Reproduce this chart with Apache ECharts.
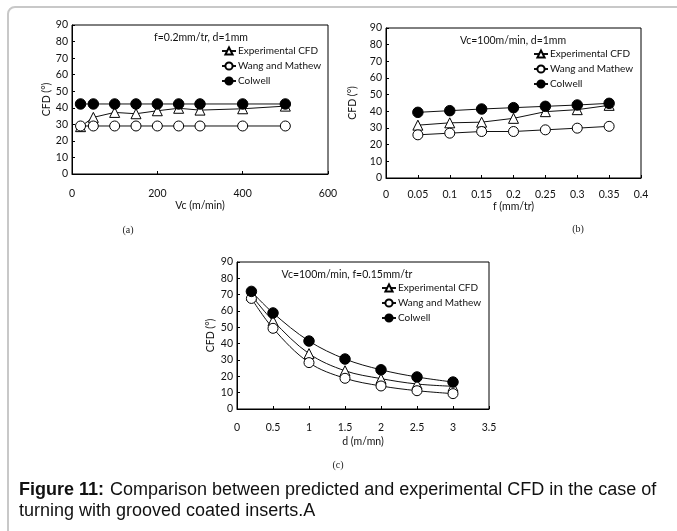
<!DOCTYPE html>
<html>
<head>
<meta charset="utf-8">
<script src="https://cdn.jsdelivr.net/npm/echarts@6/dist/echarts.min.js"></script>
<style>
html,body{margin:0;padding:0;background:#fff;}
#main{width:677px;height:531px;}
</style>
</head>
<body>
<div id="main"></div>
<script>
// ---- data ----
const seriesNames = ['Experimental CFD', 'Wang and Mathew', 'Colwell'];

// (a) f=0.2mm/tr, d=1mm
const vcA = [20, 50, 100, 150, 200, 250, 300, 400, 500];
const expA = [28.6, 34.2, 37.2, 36.4, 38.2, 39.7, 38.6, 39.4, 41.0];
const wangA = [29, 29, 29, 29, 29, 29, 29, 29, 29];
const colA = [42.3, 42.3, 42.3, 42.3, 42.3, 42.3, 42.3, 42.3, 42.3];

// (b) Vc=100m/min, d=1mm
const fB = [0.05, 0.1, 0.15, 0.2, 0.25, 0.3, 0.35];
const expB = [31.7, 33.1, 33.5, 35.8, 39.8, 41.0, 43.6];
const wangB = [25.9, 26.9, 27.9, 27.9, 28.9, 29.9, 31.0];
const colB = [39.4, 40.4, 41.4, 42.2, 43.0, 43.8, 44.8];

// (c) Vc=100m/min, f=0.15mm/tr
const dC = [0.2, 0.5, 1, 1.5, 2, 2.5, 3];
const expC = [69.6, 54.0, 33.9, 23.4, 18.6, 15.3, 13.9];
const wangC = [67.7, 49.4, 28.4, 18.8, 14.1, 11.2, 9.4];
const colC = [72.0, 58.8, 41.6, 30.6, 24.0, 19.6, 16.5];

const yTicks = {min: 0, max: 90, interval: 10};
const xA = {min: 0, max: 600, interval: 200};
const xB = {min: 0, max: 0.4, interval: 0.05};
const xC = {min: 0, max: 3.5, interval: 0.5};

// ---- styling helpers ----
const zip = (xs, ys) => xs.map((x, i) => [x, ys[i]]);
const FONT = 'Lato';
const symStyles = [
  {symbol: 'triangle', symbolSize: 10, itemStyle: {color: '#fff', borderColor: '#000', borderWidth: 1}},
  {symbol: 'circle', symbolSize: 10, itemStyle: {color: '#fff', borderColor: '#000', borderWidth: 1}},
  {symbol: 'circle', symbolSize: 10.5, itemStyle: {color: '#000', borderColor: '#000', borderWidth: 1}}
];
function mkSeries(idx, xs, ysList, smooth) {
  return ysList.map((ys, k) => Object.assign({
    type: 'line', name: seriesNames[k], xAxisIndex: idx, yAxisIndex: idx,
    data: zip(xs, ys), smooth: smooth ? 0.35 : false,
    lineStyle: {color: '#111', width: 1},
    z: 2 + k, animation: false
  }, symStyles[k]));
}
function xAxis(idx, sc, labelMargin, name, nameGap, fmt) {
  return {
    type: 'value', gridIndex: idx, min: sc.min, max: sc.max, interval: sc.interval,
    axisLine: {show: true, onZero: false, lineStyle: {color: '#000', width: 1}},
    axisTick: {show: true, inside: true, length: 3, lineStyle: {color: '#000'}},
    splitLine: {show: false},
    axisLabel: {color: '#111', fontFamily: FONT, fontSize: 10.5, margin: labelMargin,
      formatter: fmt || (v => String(v))},
    name: name, nameLocation: 'middle', nameGap: nameGap,
    nameTextStyle: {color: '#111', fontFamily: FONT, fontSize: 10.5}
  };
}
function yAxis(idx, nameGap) {
  return {
    type: 'value', gridIndex: idx, min: yTicks.min, max: yTicks.max, interval: yTicks.interval,
    axisLine: {show: true, onZero: false, lineStyle: {color: '#000', width: 1}},
    axisTick: {show: true, inside: true, length: 3, lineStyle: {color: '#000'}},
    splitLine: {show: false},
    axisLabel: {color: '#111', fontFamily: FONT, fontSize: 10.5, margin: 4},
    name: 'CFD (°)', nameLocation: 'middle', nameGap: nameGap,
    nameTextStyle: {color: '#111', fontFamily: FONT, fontSize: 10.5}
  };
}
function legend(left, top) {
  return {
    data: seriesNames, orient: 'vertical', left: left, top: top, padding: 0,
    itemWidth: 14, itemHeight: 9, itemGap: 5, selectedMode: false,
    textStyle: {color: '#111', fontFamily: FONT, fontSize: 10, padding: [0, 0, 0, -3]}
  };
}
const gridStyle = {show: true, borderColor: '#000', borderWidth: 1, backgroundColor: 'transparent'};

const chart = echarts.init(document.getElementById('main'), null, {renderer: 'canvas'});
const capFont = '"Liberation Sans"';
const option = {
  animation: false,
  backgroundColor: '#fff',
  grid: [
    Object.assign({left: 72, top: 25, width: 256, height: 149}, gridStyle),
    Object.assign({left: 386, top: 28, width: 255, height: 150}, gridStyle),
    Object.assign({left: 237, top: 262, width: 252, height: 147}, gridStyle)
  ],
  xAxis: [
    xAxis(0, xA, 14, 'Vc (m/min)', 23),
    xAxis(1, xB, 11, 'f (mm/tr)', 20, v => String(+v.toFixed(2))),
    xAxis(2, xC, 13, 'd (m/mn)', 27, v => String(+v.toFixed(1)))
  ],
  yAxis: [yAxis(0, 18), yAxis(1, 28), yAxis(2, 21)],
  legend: [legend(221, 46), legend(533, 49), legend(381, 283)],
  series: [].concat(
    mkSeries(0, vcA, [expA, wangA, colA], false),
    mkSeries(1, fB, [expB, wangB, colB], false),
    mkSeries(2, dC, [expC, wangC, colC], true)
  ),
  graphic: [
    {type: 'rect', silent: true, z: -1,
      shape: {x: 8, y: 7, width: 700, height: 560, r: 7},
      style: {fill: 'none', stroke: '#c8c8c8', lineWidth: 2}},
    {type: 'text', style: {text: 'f=0.2mm/tr, d=1mm', x: 201, y: 38, textAlign: 'center', textVerticalAlign: 'middle', font: '10.5px ' + FONT, fill: '#111'}},
    {type: 'text', style: {text: 'Vc=100m/min, d=1mm', x: 513, y: 41, textAlign: 'center', textVerticalAlign: 'middle', font: '10.5px ' + FONT, fill: '#111'}},
    {type: 'text', style: {text: 'Vc=100m/min, f=0.15mm/tr', x: 347, y: 275, textAlign: 'center', textVerticalAlign: 'middle', font: '10.5px ' + FONT, fill: '#111'}},
    {type: 'text', style: {text: '(a)', x: 128, y: 230, textAlign: 'center', textVerticalAlign: 'middle', font: '10px "Liberation Serif"', fill: '#222'}},
    {type: 'text', style: {text: '(b)', x: 578, y: 229, textAlign: 'center', textVerticalAlign: 'middle', font: '10px "Liberation Serif"', fill: '#222'}},
    {type: 'text', style: {text: '(c)', x: 338, y: 465, textAlign: 'center', textVerticalAlign: 'middle', font: '10px "Liberation Serif"', fill: '#222'}},
    {type: 'text', style: {text: 'Figure 11:', x: 19, y: 490, textVerticalAlign: 'middle', font: 'bold 18px ' + capFont, fill: '#111'}},
    {type: 'text', style: {text: 'Comparison between predicted and experimental CFD in the case of', x: 110, y: 490, textVerticalAlign: 'middle', font: '18px ' + capFont, fill: '#111'}},
    {type: 'text', style: {text: 'turning with grooved coated inserts.A', x: 19, y: 511, textVerticalAlign: 'middle', font: '18px ' + capFont, fill: '#111'}}
  ]
};
chart.setOption(option);
</script>
</body>
</html>
